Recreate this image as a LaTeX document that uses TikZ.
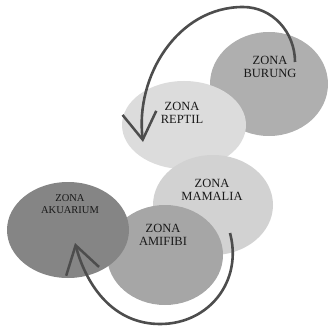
\documentclass[tikz,border=0pt]{standalone}
\usepackage{fontspec}
\setmainfont{Liberation Serif}
\usepackage{tikz}
\usetikzlibrary{arrows.meta,shapes.geometric}
\definecolor{burung}{HTML}{AFAFAF}
\definecolor{reptil}{HTML}{DCDCDC}
\definecolor{mamalia}{HTML}{D2D2D2}
\definecolor{amifibi}{HTML}{A6A6A6}
\definecolor{akuarium}{HTML}{858585}
\definecolor{ink}{HTML}{4D4D4D}

\begin{document}
\begin{tikzpicture}[
  x=1pt, y=1pt,
  zone/.style={ellipse, draw=none, inner sep=0pt},
  lbl/.style={align=center, font=\fontsize{12.5}{12.5}\selectfont, text=black!90},
  arr/.style={-{Straight Barb[length=27pt, width=34pt, line width=2.5pt]}, line width=2.6pt, ink}
]
\useasboundingbox (0,0) rectangle (331,327);
\node[zone, fill=burung, minimum width=118pt, minimum height=104pt] (burung) at (269,243) {};
\node[zone, fill=reptil, minimum width=124pt, minimum height=88pt] (reptil) at (184,202) {};
\node[zone, fill=mamalia, minimum width=120pt, minimum height=100pt] (mamalia) at (213,122) {};
\node[zone, fill=amifibi, minimum width=116pt, minimum height=100pt] (amifibi) at (165,72) {};
\node[zone, fill=akuarium, minimum width=122pt, minimum height=96pt] (akuarium) at (68,97) {};
\node[lbl] (tburung) at ([shift={(1,17)}]burung.center) {ZONA\\BURUNG};
\node[lbl] (treptil) at ([shift={(-2,12)}]reptil.center) {ZONA\\REPTIL};
\node[lbl] (tmamalia) at ([shift={(-1,15)}]mamalia.center) {ZONA\\MAMALIA};
\node[lbl] (tamifibi) at ([shift={(-2,20)}]amifibi.center) {ZONA\\AMIFIBI};
\node[lbl, font=\fontsize{10.5}{11.5}\selectfont] (takuarium) at ([shift={(2,26)}]akuarium.center) {ZONA\\AKUARIUM};
\draw[arr] ([shift={(26,22)}]burung.center) to[out=90,in=0] (243,320) to[out=180,in=97] ([shift={(-41,-17)}]reptil.center);
\draw[arr] ([shift={(17,-28)}]mamalia.center) to[out=-75,in=0,looseness=1.1] (160,3) to[out=180,in=-75] ([shift={(7,-13)}]akuarium.center);
\end{tikzpicture}
\end{document}
